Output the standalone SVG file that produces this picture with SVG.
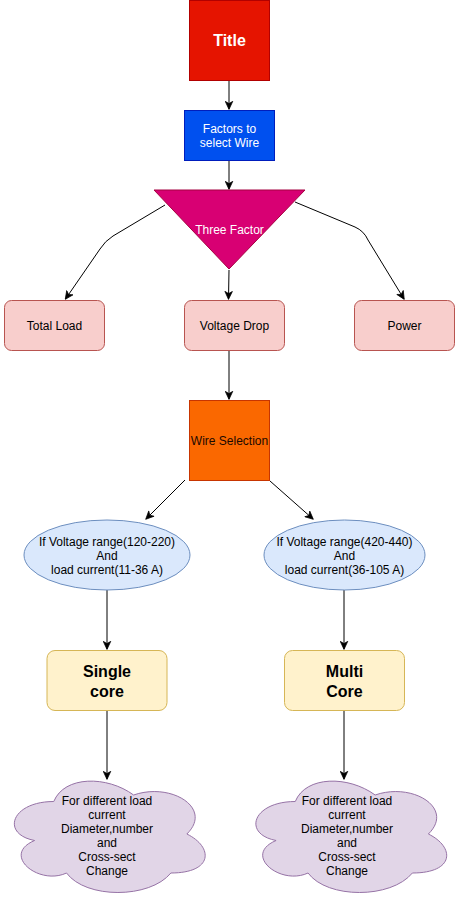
<svg xmlns="http://www.w3.org/2000/svg" width="455" height="901" viewBox="0 0 455 901">
<defs>
<marker id="arr" viewBox="0 0 10 10" refX="9" refY="5" markerWidth="9" markerHeight="9" markerUnits="userSpaceOnUse" orient="auto">
<path d="M0.5,0.8 L9.5,5 L0.5,9.2 L3,5 Z" fill="#000" stroke="#000" stroke-width="0.8"/>
</marker>
<path id="cloud" d="M53.25,32.5 C10.65,32.5 0,65 34.08,71.5 C0,85.8 38.34,117 66.03,104 C85.2,130 149.1,130 170.4,104 C213,104 213,78 186.38,65 C213,39 170.4,13 133.13,26 C106.5,6.5 63.9,6.5 53.25,32.5 Z"/>
</defs>
<style>
text{font-family:"Liberation Sans",Arial,sans-serif;font-size:12px;text-anchor:middle;}
.w{fill:#ffffff;}
.b{font-weight:bold;font-size:16px;}
.pink rect{fill:#f8cecc;stroke:#b85450;stroke-width:1;}
.yel rect{fill:#fff2cc;stroke:#d6b656;stroke-width:1;}
.ell ellipse{fill:#dae8fc;stroke:#6c8ebf;stroke-width:1;}
.cl use{fill:#e1d5e7;stroke:#9673a6;stroke-width:1;}
.e{fill:none;stroke:#000;stroke-width:1;marker-end:url(#arr);}
</style>
<rect width="455" height="901" fill="#ffffff"/>
<g id="connectors">
<path class="e" d="M229,80 L229,109"/>
<path class="e" d="M229,160 L229,189"/>
<path class="e" d="M165,205 L113,236 Q105,241 100,249 L65.5,299"/>
<path class="e" d="M229,270 L228.5,299"/>
<path class="e" d="M295,202 L355,227 Q364,231 368,240 L404,299"/>
<path class="e" d="M229,350 L229,399"/>
<path class="e" d="M185,480 L146,519"/>
<path class="e" d="M270,481 L313,519"/>
<path class="e" d="M107,590 L107,649"/>
<path class="e" d="M344,590 L344,649"/>
<path class="e" d="M107,710 L107,779"/>
<path class="e" d="M344,710 L344,779"/>
</g>
<g id="title">
<rect x="189.5" y="0.5" width="80" height="80" fill="#e51400" stroke="#b20000"/>
<text x="229.5" y="46" class="w b">Title</text>
</g>
<g id="factors">
<rect x="184.5" y="110.5" width="90" height="50" fill="#0050ef" stroke="#001dbc"/>
<text x="229.5" y="133" class="w">Factors to</text>
<text x="229.5" y="147" class="w">select Wire</text>
</g>
<g id="three-factor">
<polygon points="154,190 305,190 229,269" fill="#d80073" stroke="#a50040"/>
<text x="229.5" y="234" class="w">Three Factor</text>
</g>
<g id="total-load" class="pink">
<rect x="4.5" y="300.5" width="100" height="50" rx="7"/>
<text x="54.5" y="330">Total Load</text>
</g>
<g id="voltage-drop" class="pink">
<rect x="184.5" y="300.5" width="100" height="50" rx="7"/>
<text x="234.5" y="330">Voltage Drop</text>
</g>
<g id="power" class="pink">
<rect x="354.5" y="300.5" width="100" height="50" rx="7"/>
<text x="404.5" y="330">Power</text>
</g>
<g id="wire-selection">
<rect x="189.5" y="400.5" width="80" height="80" fill="#fa6800" stroke="#c73500"/>
<text x="229.5" y="445" fill="#1a0800">Wire Selection</text>
</g>
<g id="cond-left" class="ell">
<ellipse cx="107" cy="555" rx="83" ry="35"/>
<text x="107" y="546">If Voltage range(120-220)</text>
<text x="107" y="560">And</text>
<text x="107" y="574">load current(11-36 A)</text>
</g>
<g id="cond-right" class="ell">
<ellipse cx="344.5" cy="555" rx="80.5" ry="35"/>
<text x="344.5" y="546">If Voltage range(420-440)</text>
<text x="344.5" y="560">And</text>
<text x="344.5" y="574">load current(36-105 A)</text>
</g>
<g id="single-core" class="yel">
<rect x="47" y="650.5" width="120" height="60" rx="8"/>
<text x="107" y="677" class="b">Single</text>
<text x="107" y="697" class="b">core</text>
</g>
<g id="multi-core" class="yel">
<rect x="284.5" y="650.5" width="120" height="60" rx="8"/>
<text x="344.5" y="677" class="b">Multi</text>
<text x="344.5" y="697" class="b">Core</text>
</g>
<g id="cloud-left" class="cl">
<use href="#cloud" x="0.5" y="769"/>
<text x="107" y="805">For different load</text>
<text x="107" y="819">current</text>
<text x="107" y="833">Diameter,number</text>
<text x="107" y="847">and</text>
<text x="107" y="861">Cross-sect</text>
<text x="107" y="875">Change</text>
</g>
<g id="cloud-right" class="cl">
<use href="#cloud" x="242" y="769"/>
<text x="347" y="805">For different load</text>
<text x="347" y="819">current</text>
<text x="347" y="833">Diameter,number</text>
<text x="347" y="847">and</text>
<text x="347" y="861">Cross-sect</text>
<text x="347" y="875">Change</text>
</g>
</svg>
